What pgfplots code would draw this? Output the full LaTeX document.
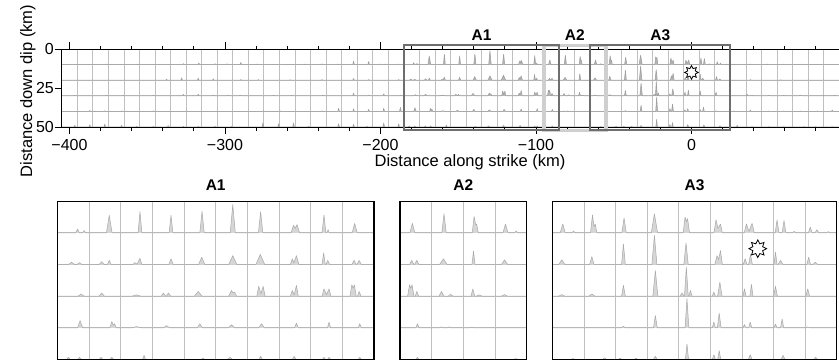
\documentclass[border=0pt]{standalone}
\usepackage{fontspec}
\setmainfont{Liberation Sans}
\usepackage{pgfplots}
\pgfplotsset{compat=1.18}
\usepackage{pgfplotstable}

\definecolor{stffill}{HTML}{D6D6D6}
\definecolor{stfline}{HTML}{A8A8A8}
\definecolor{stffilltop}{HTML}{B4B4B4}
\definecolor{stflinetop}{HTML}{A0A0A0}
\definecolor{gridc}{HTML}{C0C0C0}
\definecolor{boxdark}{HTML}{6E6E6E}
\definecolor{boxlight}{HTML}{CFCFCF}

% source time functions, one table per row of subfaults (baseline = bottom of row, km)
\pgfplotstableread[row sep=\\]{x y\\
-405 10\\
-376.7 10\\ -376.2 9.6\\ -375.7 10\\
-356.3 10\\ -355.8 9.6\\ -355.3 10\\
-327.3 10\\ -326.8 9.4\\ -326.3 10\\
-317.3 10\\ -316.8 9.0\\ -316.3 10\\
-306.9 10\\ -306.4 9.4\\ -305.9 10\\
-299 10\\ -298.5 9.5\\ -298 10\\
-290.3 10\\ -289.8 8.6\\ -289.3 10\\
-280 10\\ -279.5 9.6\\ -279 10\\
-260.5 10\\ -260 9.7\\ -259.5 10\\
-248.9 10\\ -248.4 9.6\\ -247.9 10\\
-238.1 10\\ -237.6 9.5\\ -237.1 10\\
-228.1 10\\ -227.6 9.6\\ -227.1 10\\
-217.8 10\\ -217.3 7.8\\ -216.8 10\\
-208.1 10\\ -207.6 8.0\\ -207.1 10\\
-200.6 10\\ -200.1 9.6\\ -199.6 10\\
-197.4 10\\ -196.9 9.6\\ -196.4 10\\
-189.2 10\\ -188.7 9.6\\ -188.2 10\\
-179.2 10\\ -178.6 8.8\\ -178 10\\
-177 10\\ -176.5 9.3\\ -176 10\\
-169.5 10\\ -168.6 4.5\\ -167.7 10\\
-159.5 10\\ -158.9 3.3\\ -158.3 10\\
-149.7 10\\ -149.1 4.5\\ -148.5 10\\
-140 10\\ -139.3 3.2\\ -138.6 10\\
-130.4 10\\ -129.6 1.1\\ -128.8 10\\
-121.5 10\\ -120.8 3.3\\ -120.1 10\\
-111.2 10\\ -110.4 7.6\\ -109.9 8.6\\ -109.3 7.4\\ -108.5 10\\
-101.4 10\\ -100.8 4.3\\ -100.2 10\\
-99.9 10\\ -99.5 9.0\\ -99.1 10\\
-91.9 10\\ -91.1 7.0\\ -90.3 10\\
-81.8 10\\ -81.1 4.0\\ -80.4 10\\
-72.2 10\\ -71.6 4.8\\ -71.1 7.5\\ -70.8 7.2\\ -70.3 10\\
-62.5 10\\ -61.7 7.2\\ -60.9 10\\
-58.8 10\\ -58.3 9.4\\ -57.8 10\\
-52.9 10\\ -52.3 4.3\\ -51.8 8.0\\ -51.4 7.2\\ -50.9 10\\
-43 10\\ -42.3 5.3\\ -41.6 10\\
-33.7 10\\ -32.7 4.0\\ -31.7 10\\
-23.6 10\\ -23.0 5.0\\ -22.6 6.5\\ -22.2 5.5\\ -21.6 10\\
-13.9 10\\ -13.2 5.9\\ -12.6 8.6\\ -11.8 7.2\\ -11.2 10\\
-4.3 10\\ -3.6 7.2\\ -2.8 9.5\\ -1.8 7.0\\ -1.1 10\\
5.5 10\\ 6.1 5.9\\ 6.7 10\\ 7.7 10\\ 8.3 6.1\\ 8.9 10\\
11 10\\ 11.5 9.5\\ 12 10\\
16 10\\ 16.6 8.2\\ 17.2 10\\
18.1 10\\ 18.7 9.0\\ 19.3 10\\
21.8 10\\ 22.3 9.6\\ 22.8 10\\
26.7 10\\ 27.2 9.6\\ 27.7 10\\
37.4 10\\ 37.9 9.6\\ 38.4 10\\
48.2 10\\ 48.7 9.6\\ 49.2 10\\
58.9 10\\ 59.4 9.6\\ 59.9 10\\
70.7 10\\ 71.2 9.6\\ 71.7 10\\
105 10\\
}\stfa

\pgfplotstableread[row sep=\\]{x y\\
-405 20\\
-338.1 20\\ -337.6 19.4\\ -337.1 20\\
-328.4 20\\ -327.9 18.5\\ -327.4 20\\
-317.7 20\\ -317.2 18.7\\ -316.7 20\\
-308 20\\ -307.5 19.1\\ -307 20\\
-290.3 20\\ -289.8 19.6\\ -289.3 20\\
-278.9 20\\ -278.4 19.6\\ -277.9 20\\
-258.5 20\\ -258 19.7\\ -257.5 20\\
-238.1 20\\ -237.6 19.6\\ -237.1 20\\
-217.8 20\\ -217.3 18.9\\ -216.8 20\\
-208.1 20\\ -207.6 19.6\\ -207.1 20\\
-188.8 20\\ -188.3 19.6\\ -187.8 20\\
-181.5 20\\ -180.5 19.3\\ -179.5 20\\
-178.8 20\\ -178 19.4\\ -177.2 20\\
-171.8 20\\ -171 19.1\\ -170.2 20\\
-169.2 20\\ -168.6 18.7\\ -168 20\\
-161.1 20\\ -160.5 19.4\\ -159.8 19.9\\ -158.9 18\\ -158.3 20\\
-149.8 20\\ -149.1 18.2\\ -148.4 20\\
-140.4 20\\ -139.4 17.7\\ -138.4 20\\
-130.9 20\\ -129.6 17.2\\ -128.3 20\\
-122.3 20\\ -120.9 16.8\\ -119.5 20\\
-111.4 20\\ -110.8 18.2\\ -110.3 19.4\\ -109.5 17.2\\ -108.7 20\\
-101.4 20\\ -100.9 16.3\\ -100.4 20\\
-100.2 20\\ -99.6 18.7\\ -99 20\\
-92 20\\ -91.3 18.7\\ -90.6 20\\
-90.4 20\\ -89.7 18.7\\ -89 20\\
-82.5 20\\ -81.3 18.2\\ -80.1 20\\
-72.3 20\\ -71.8 15.8\\ -71.3 20\\
-63 20\\ -62 18.5\\ -61 20\\
-53.2 20\\ -52.5 17.5\\ -51.8 20\\
-43.1 20\\ -42.5 13.5\\ -41.9 20\\
-33.5 20\\ -32.7 10.8\\ -31.9 20\\
-23.4 20\\ -22.7 13.2\\ -22 20\\
-13.6 20\\ -12.9 17.2\\ -12.4 18.4\\ -11.8 15.6\\ -11.2 20\\
-4.6 20\\ -4.0 18.2\\ -3.4 20\\ -2.9 20\\ -2.3 16.8\\ -1.7 20\\
5.1 20\\ 5.6 16.1\\ 6.1 20\\
6.4 20\\ 7.2 18.7\\ 8 20\\
15.5 20\\ 16.1 17.7\\ 16.7 20\\
17.4 20\\ 18.2 19.3\\ 19 20\\
37.4 20\\ 37.9 19.6\\ 38.4 20\\
56.8 20\\ 57.3 19.7\\ 57.8 20\\
105 20\\
}\stfb

\pgfplotstableread[row sep=\\]{x y\\
-405 30\\
-397.1 30\\ -396.6 29.7\\ -396.1 30\\
-376.7 30\\ -376.2 29.7\\ -375.7 30\\
-366 30\\ -365.5 29.7\\ -365 30\\
-346.6 30\\ -346.1 29.7\\ -345.6 30\\
-327.3 30\\ -326.8 29.1\\ -326.3 30\\
-317.7 30\\ -317.2 28.9\\ -316.7 30\\
-308 30\\ -307.5 29.6\\ -307 30\\
-298.4 30\\ -297.9 29.6\\ -297.4 30\\
-290.7 30\\ -290.2 29.6\\ -289.7 30\\
-269.3 30\\ -268.8 29.7\\ -268.3 30\\
-257.5 30\\ -257 29.7\\ -256.5 30\\
-237.5 30\\ -237 29.6\\ -236.5 30\\
-217.8 30\\ -217.3 28.3\\ -216.8 30\\
-208.1 30\\ -207.6 29.6\\ -207.1 30\\
-198.4 30\\ -197.9 28.7\\ -197.4 30\\
-187.7 30\\ -187.2 29.6\\ -186.7 30\\
-178.5 30\\ -177.5 29.3\\ -176.5 30\\
-171.9 30\\ -171 29\\ -170.1 30\\
-161.5 30\\ -160 29.6\\ -158.5 30\\
-152.2 30\\ -151.5 29\\ -150.8 30\\
-150.6 30\\ -149.9 29\\ -149.2 30\\
-141.7 30\\ -140.5 28.5\\ -139.3 30\\
-130.9 30\\ -130 28.2\\ -129.5 29\\ -129 28.7\\ -128.4 30\\
-122 30\\ -121.4 26.9\\ -120.7 29.2\\ -120 26.9\\ -119.4 30\\
-111.4 30\\ -110.8 28.2\\ -110.2 29.6\\ -109.5 26.6\\ -108.9 30\\
-101.4 30\\ -100.8 27.7\\ -100 29.5\\ -99.2 27.7\\ -98.6 30\\
-92.6 30\\ -92 26.4\\ -91.6 27.5\\ -91.2 26.4\\ -90.6 30\\ -90.2 30\\ -89.7 28.5\\ -89.1 30\\
-82.7 30\\ -81.9 28.5\\ -81.1 30\\
-79.8 30\\ -79 29.4\\ -78.2 30\\
-72.6 30\\ -72 27.7\\ -71.4 30\\
-71 30\\ -70 29.6\\ -69 30\\
-63 30\\ -62 29.5\\ -61 30\\
-53.5 30\\ -52.5 29.3\\ -51.5 30\\
-43.1 30\\ -42.5 26.6\\ -41.9 30\\
-33.2 30\\ -32.4 21.9\\ -31.6 30\\
-24.6 30\\ -24 29\\ -23.3 30\\ -23.2 30\\ -22.6 20.8\\ -22 30\\ -21.8 30\\ -21.3 28.2\\ -20.8 30\\
-14.4 30\\ -13.9 28.7\\ -13.4 30\\
-12.7 30\\ -12 25.6\\ -11.3 30\\
-4.7 30\\ -4.2 27.7\\ -3.7 30\\
-2.5 30\\ -2 26.3\\ -1.5 30\\
5 30\\ 5.6 26.9\\ 6.2 30\\
15.2 30\\ 15.8 27.7\\ 16.4 30\\
35.3 30\\ 35.8 28.9\\ 36.3 30\\
38.5 30\\ 39 29.7\\ 39.5 30\\
49.2 30\\ 49.7 29.7\\ 50.2 30\\
58.9 30\\ 59.4 29.7\\ 59.9 30\\
69.2 30\\ 70 29.6\\ 70.8 30\\
84.5 30\\ 85 29.7\\ 85.5 30\\
91.5 30\\ 92 29.7\\ 92.5 30\\
105 30\\
}\stfc

\pgfplotstableread[row sep=\\]{x y\\
-405 40\\
-387.4 40\\ -386.9 39.4\\ -386.4 40\\
-377.8 40\\ -377.3 39.6\\ -376.8 40\\
-367 40\\ -366.5 39.7\\ -366 40\\
-346.6 40\\ -346.1 39.7\\ -345.6 40\\
-325.2 40\\ -324.7 39.7\\ -324.2 40\\
-275.7 40\\ -275.2 39.6\\ -274.7 40\\
-265 40\\ -264.5 39.6\\ -264 40\\
-238.1 40\\ -237.6 39.6\\ -237.1 40\\
-227.4 40\\ -226.9 37.9\\ -226.4 40\\
-217.8 40\\ -217.3 38.3\\ -216.8 40\\
-208.1 40\\ -207.6 38.7\\ -207.1 40\\
-198.4 40\\ -197.9 37.9\\ -197.4 40\\
-187.7 40\\ -187.2 37.4\\ -186.7 40\\
-178.6 40\\ -177.8 37.7\\ -177 40\\
-168.4 40\\ -167.8 38\\ -167.3 39.2\\ -166.9 38.7\\ -166.4 40\\
-161.5 40\\ -160 39.6\\ -158.5 40\\
-151.5 40\\ -150.5 39.3\\ -149.5 40\\
-140.8 40\\ -140 38.7\\ -139.2 40\\
-131 40\\ -130 39\\ -129 40\\
-121.4 40\\ -120.5 38.7\\ -119.6 40\\
-110.1 40\\ -109.5 38.5\\ -108.9 40\\
-99.7 40\\ -99.2 38.2\\ -98.7 40\\
-90 40\\ -89.5 38.7\\ -89 40\\
-82.5 40\\ -82 39.7\\ -81.5 40\\
-80 40\\ -79.5 39.7\\ -79 40\\
-72.8 40\\ -72.3 39.8\\ -71.8 40\\
-43.1 40\\ -42.5 39.5\\ -41.9 40\\
-33 40\\ -32.4 36.1\\ -31.8 40\\
-23 40\\ -22.4 30.8\\ -21.8 40\\
-14.4 40\\ -13.9 38.2\\ -13.4 40\\
-12.8 40\\ -12.2 35.4\\ -11.6 40\\
-4.7 40\\ -4.2 39\\ -3.7 40\\
-2.9 40\\ -2.4 38.2\\ -1.9 40\\
5.1 40\\ 5.6 38.8\\ 6.1 40\\
7.2 40\\ 7.7 37.2\\ 8.2 40\\
15.2 40\\ 15.8 39.7\\ 16.4 40\\
26.7 40\\ 27.2 39.7\\ 27.7 40\\
37.4 40\\ 37.9 39.1\\ 38.4 40\\
49.2 40\\ 49.7 39.7\\ 50.2 40\\
58.9 40\\ 59.4 39.7\\ 59.9 40\\
69.6 40\\ 70.1 39.7\\ 70.6 40\\
80.4 40\\ 80.9 39.7\\ 81.4 40\\
90 40\\ 90.5 39.1\\ 91 40\\
105 40\\
}\stfd

\pgfplotstableread[row sep=\\]{x y\\
-405 50\\
-397.1 50\\ -396.6 48.9\\ -396.1 50\\
-387.4 50\\ -386.9 48.5\\ -386.4 50\\
-377.8 50\\ -377.3 48.1\\ -376.8 50\\
-367 50\\ -366.5 48.9\\ -366 50\\
-357.4 50\\ -356.9 49.6\\ -356.4 50\\
-346.6 50\\ -346.1 49.6\\ -345.6 50\\
-337 50\\ -336.5 49.1\\ -336 50\\
-327.3 50\\ -326.8 49.6\\ -326.3 50\\
-317.7 50\\ -317.2 49.6\\ -316.7 50\\
-306.9 50\\ -306.4 49.6\\ -305.9 50\\
-296.2 50\\ -295.7 49.6\\ -295.2 50\\
-276.1 50\\ -275.6 47.4\\ -275.1 50\\
-266 50\\ -265.5 47.9\\ -265 50\\
-256.4 50\\ -255.9 47.4\\ -255.4 50\\
-246.7 50\\ -246.2 49.6\\ -245.7 50\\
-227.4 50\\ -226.9 47.9\\ -226.4 50\\
-217.8 50\\ -217.3 48.3\\ -216.8 50\\
-209.2 50\\ -208.7 49.6\\ -208.2 50\\
-198.4 50\\ -197.9 47.4\\ -197.4 50\\
-188.8 50\\ -188.3 47.9\\ -187.8 50\\
-182.1 50\\ -181.5 49.3\\ -180.9 50\\
-178.6 50\\ -178 49.3\\ -177.4 50\\
-171.8 50\\ -171.2 49.3\\ -170.6 50\\
-168.4 50\\ -167.8 49.3\\ -167.2 50\\
-158.1 50\\ -157.6 48.7\\ -157.1 50\\
-139.6 50\\ -139 49.6\\ -138.4 50\\
-131.3 50\\ -130.5 49.3\\ -129.7 50\\
-121.4 50\\ -120.8 49\\ -120.2 50\\
-110.8 50\\ -110.2 49\\ -109.6 50\\
-101.3 50\\ -100.8 49.3\\ -100.3 50\\
-99.7 50\\ -99.2 49.3\\ -98.7 50\\
-90 50\\ -89.5 49.3\\ -89 50\\
-59.1 50\\ -58.5 49.7\\ -57.9 50\\
-49.1 50\\ -48.5 49.5\\ -47.9 50\\
-44.1 50\\ -43.5 49.6\\ -42.9 50\\
-39.1 50\\ -38.5 49.6\\ -37.9 50\\
-33 50\\ -32.4 49\\ -31.8 50\\
-22.9 50\\ -22.4 45.1\\ -21.9 50\\
-14.4 50\\ -13.9 48.5\\ -13.4 50\\
-12.7 50\\ -12.2 47.2\\ -11.7 50\\
-3 50\\ -2.4 48.5\\ -1.8 50\\
7.4 50\\ 8 48.7\\ 8.6 50\\
17.7 50\\ 18.3 49.3\\ 18.9 50\\
28.9 50\\ 29.4 48.9\\ 29.9 50\\
38.5 50\\ 39 49.7\\ 39.5 50\\
49.2 50\\ 49.7 49.7\\ 50.2 50\\
58.9 50\\ 59.4 49.7\\ 59.9 50\\
71.8 50\\ 72.3 49.7\\ 72.8 50\\
79.3 50\\ 79.8 49.7\\ 80.3 50\\
90 50\\ 90.5 49.7\\ 91 50\\
105 50\\
}\stfe

\pgfdeclareplotmark{hypo}{%
  \pgfpathmoveto{\pgfpointpolar{90}{\pgfplotmarksize}}%
  \pgfpathlineto{\pgfpointpolar{112.5}{0.6*\pgfplotmarksize}}%
  \pgfpathlineto{\pgfpointpolar{135}{\pgfplotmarksize}}%
  \pgfpathlineto{\pgfpointpolar{157.5}{0.6*\pgfplotmarksize}}%
  \pgfpathlineto{\pgfpointpolar{180}{\pgfplotmarksize}}%
  \pgfpathlineto{\pgfpointpolar{202.5}{0.6*\pgfplotmarksize}}%
  \pgfpathlineto{\pgfpointpolar{225}{\pgfplotmarksize}}%
  \pgfpathlineto{\pgfpointpolar{247.5}{0.6*\pgfplotmarksize}}%
  \pgfpathlineto{\pgfpointpolar{270}{\pgfplotmarksize}}%
  \pgfpathlineto{\pgfpointpolar{292.5}{0.6*\pgfplotmarksize}}%
  \pgfpathlineto{\pgfpointpolar{315}{\pgfplotmarksize}}%
  \pgfpathlineto{\pgfpointpolar{337.5}{0.6*\pgfplotmarksize}}%
  \pgfpathlineto{\pgfpointpolar{0}{\pgfplotmarksize}}%
  \pgfpathlineto{\pgfpointpolar{22.5}{0.6*\pgfplotmarksize}}%
  \pgfpathlineto{\pgfpointpolar{45}{\pgfplotmarksize}}%
  \pgfpathlineto{\pgfpointpolar{67.5}{0.6*\pgfplotmarksize}}%
  \pgfpathclose
  \pgfusepathqfillstroke}

\pgfplotsset{
  stf/.style={fill=stffill, draw=stfline, line width=0.5pt, line join=round, mark=none},
  stftop/.style={fill=stffilltop, draw=stflinetop, line width=0.55pt, line join=round, mark=none},
  hypostyle/.style={only marks, mark=hypo, mark options={fill=white, draw=black, line width=0.8pt}},
  bottompanel/.style={
    scale only axis, height=158.3pt,
    ymin=0, ymax=50, y dir=reverse,
    ytick={10,20,30,40}, yticklabels={}, xticklabels={},
    major tick length=0pt, tick style={draw=none},
    grid=major, major grid style={gridc, line width=0.8pt},
    axis line style={draw=none},
    clip mode=individual,
    title style={font=\bfseries\fontsize{15.5}{18}\selectfont, at={(0.5,1)}, anchor=base, yshift=4.3pt, inner sep=0pt},
  },
}

\begin{document}
\begin{tikzpicture}
\useasboundingbox (0,0) rectangle (839pt,-360pt);

% ---------------- top overview panel ----------------
\begin{axis}[
  at={(61.7pt,-127pt)}, anchor=south west,
  scale only axis, width=793.05pt, height=78pt,
  xmin=-405, xmax=105, ymin=0, ymax=50, y dir=reverse,
  clip=false,
  axis line style={draw=none},
  xtick={-400,-300,-200,-100,0},
  xticklabels={−400,−300,−200,−100,0},
  minor xtick={-400,-380,...,100},
  ytick={0,25,50}, yticklabels={0,25,50},
  ytick pos=left,
  tick align=outside,
  major tick length=6.8pt, minor tick length=3.5pt,
  tick style={black, line width=0.9pt},
  extra x ticks={-395,-385,...,95}, extra x tick labels={},
  extra y ticks={10,20,30,40}, extra y tick labels={},
  extra tick style={grid=major, major tick length=0pt, tick style={draw=none}},
  major grid style={gridc, line width=0.8pt},
  tick label style={font=\fontsize{16}{19}\selectfont},
  xticklabel style={yshift=-2pt},
  yticklabel style={xshift=2.5pt},
  label style={font=\fontsize{16.5}{20}\selectfont},
  xlabel={Distance along strike (km)},
  xlabel style={at={(axis description cs:0.5149,-0.509)}, anchor=base},
  ylabel={Distance down dip (km)},
  ylabel style={at={(axis description cs:-0.03745,0.4615)}, anchor=base},
]
\addplot[stftop] table[x=x,y=y] {\stfa};
\addplot[stftop] table[x=x,y=y] {\stfb};
\addplot[stftop] table[x=x,y=y] {\stfc};
\addplot[stftop] table[x=x,y=y] {\stfd};
\addplot[stftop] table[x=x,y=y] {\stfe};
\draw[black, line width=0.9pt] (rel axis cs:1,1) -- (rel axis cs:0,1) -- (rel axis cs:0,0) -- (rel axis cs:1,0);
% sub-region boxes
\addplot[draw=boxlight, line width=3.6pt, line join=miter, mark=none] coordinates {(-95,-2.3) (-55,-2.3) (-55,52.2) (-95,52.2) (-95,-2.3) (-55,-2.3)};
\addplot[draw=boxdark, line width=2pt, line join=miter, mark=none] coordinates {(-185,-2.3) (-85,-2.3) (-85,52.2) (-185,52.2) (-185,-2.3) (-85,-2.3)};
\addplot[draw=boxdark, line width=2pt, line join=miter, mark=none] coordinates {(-65,-2.3) (25,-2.3) (25,52.2) (-65,52.2) (-65,-2.3) (25,-2.3)};
\node[anchor=base, font=\bfseries\fontsize{15.5}{18}\selectfont, inner sep=0pt] at (axis cs:-135,-5.3) {A1};
\node[anchor=base, font=\bfseries\fontsize{15.5}{18}\selectfont, inner sep=0pt] at (axis cs:-75,-5.3) {A2};
\node[anchor=base, font=\bfseries\fontsize{15.5}{18}\selectfont, inner sep=0pt] at (axis cs:-20,-5.3) {A3};
\addplot[hypostyle, mark size=6.8pt] coordinates {(0,15)};
\end{axis}

% ---------------- A1 ----------------
\begin{axis}[bottompanel,
  at={(57.3pt,-359.5pt)}, anchor=south west, width=316.7pt,
  xmin=-185, xmax=-85, xtick={-175,-165,...,-95}, title={A1}]
\addplot[stf] table[x=x,y=y] {\stfa};
\addplot[stf] table[x=x,y=y] {\stfb};
\addplot[stf] table[x=x,y=y] {\stfc};
\addplot[stf] table[x=x,y=y] {\stfd};
\addplot[stf] table[x=x,y=y] {\stfe};
\draw[black, line width=1.3pt] (rel axis cs:0,0) rectangle (rel axis cs:1,1);
\end{axis}

% ---------------- A2 ----------------
\begin{axis}[bottompanel,
  at={(400pt,-359.5pt)}, anchor=south west, width=126.7pt,
  xmin=-95, xmax=-55, xtick={-85,-75,-65}, title={A2}]
\addplot[stf] table[x=x,y=y] {\stfa};
\addplot[stf] table[x=x,y=y] {\stfb};
\addplot[stf] table[x=x,y=y] {\stfc};
\addplot[stf] table[x=x,y=y] {\stfd};
\addplot[stf] table[x=x,y=y] {\stfe};
\draw[black, line width=1.3pt] (rel axis cs:0,0) rectangle (rel axis cs:1,1);
\end{axis}

% ---------------- A3 ----------------
\begin{axis}[bottompanel,
  at={(552.3pt,-359.5pt)}, anchor=south west, width=284.5pt,
  xmin=-65, xmax=25, xtick={-55,-45,...,15}, title={A3}]
\addplot[stf] table[x=x,y=y] {\stfa};
\addplot[stf] table[x=x,y=y] {\stfb};
\addplot[stf] table[x=x,y=y] {\stfc};
\addplot[stf] table[x=x,y=y] {\stfd};
\addplot[stf] table[x=x,y=y] {\stfe};
\addplot[hypostyle, mark size=8.8pt] coordinates {(0,15)};
\draw[black, line width=1.3pt] (rel axis cs:0,0) rectangle (rel axis cs:1,1);
\end{axis}
\end{tikzpicture}
\end{document}
